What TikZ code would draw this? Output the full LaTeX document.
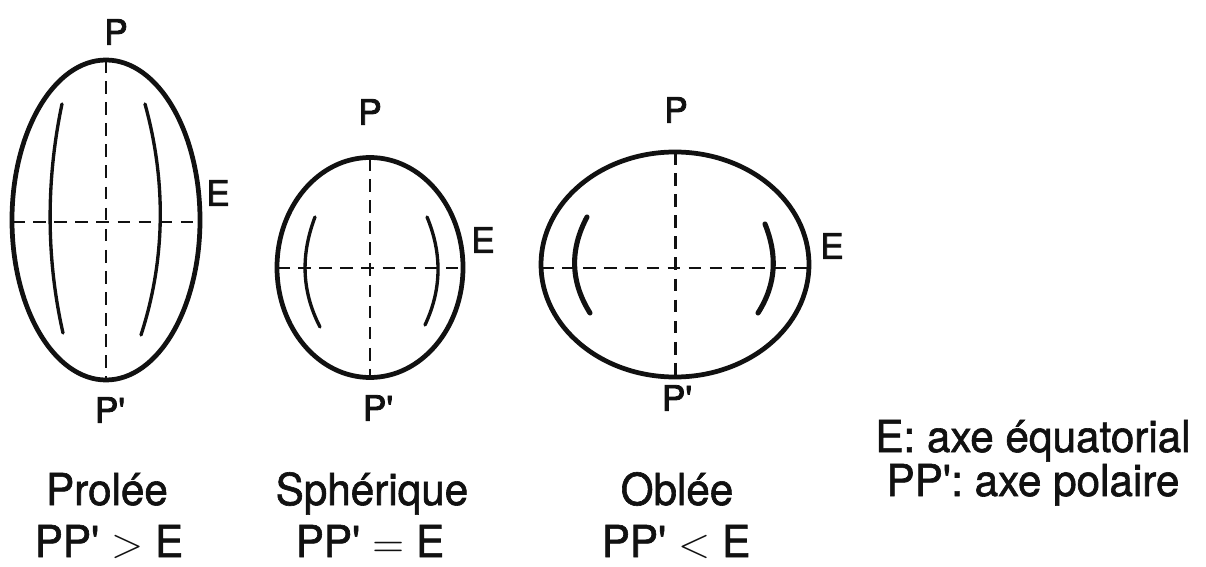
\documentclass[tikz,border=0pt]{standalone}
\usepackage{fontspec}
\setmainfont{TeX Gyre Heros}
\newfontfamily\capfont[FakeBold=1.4,FakeStretch=0.96]{TeX Gyre Heros}
\newfontfamily\polefont[FakeBold=2.2]{TeX Gyre Heros}
\definecolor{ink}{HTML}{111111}

\begin{document}
\begin{tikzpicture}[x=0.01cm,y=-0.01cm,shell/.style={ink,line width=1.35pt},axis/.style={ink,line width=0.85pt,dash pattern=on 3.6pt off 2.4pt},fold/.style={ink,line width=0.95pt,line cap=round},pole/.style={font=\polefont\fontsize{10}{10}\selectfont,text=ink,inner sep=0pt},caption/.style={font=\capfont\fontsize{12.5}{14}\selectfont,text=ink,anchor=base,inner sep=0pt}]
 \useasboundingbox (0,0) rectangle (1206,567);
 % prolee
 \coordinate (pro-n) at (106,60); \coordinate (pro-s) at (106,380);
 \coordinate (pro-w) at (12,222); \coordinate (pro-e) at (200,222);
 \draw[shell] (106,220) ellipse [x radius=94,y radius=160];
 \draw[axis] (pro-n)--(pro-s); \draw[axis] (pro-w)--(pro-e);
 \draw[fold] (62,104) .. controls (46,180) and (46,258) .. (63,333);
 \draw[fold] (145,104) .. controls (166,180) and (166,258) .. (141,335);
 \node[pole] (pro-p) at (116,32) {P};
 \node[pole] (pro-q) at (110,410) {P\textquotesingle};
 \node[pole] (pro-e-lab) at (218,193) {E};
 % spherique
 \coordinate (sph-n) at (370,158); \coordinate (sph-s) at (370,377);
 \coordinate (sph-w) at (277,268); \coordinate (sph-e) at (463,268);
 \draw[shell] (370,267.5) ellipse [x radius=93,y radius=110];
 \draw[axis] (sph-n)--(sph-s); \draw[axis] (sph-w)--(sph-e);
 \draw[fold] (315,217) .. controls (301,254) and (301,290) .. (320,327);
 \draw[fold] (427,217) .. controls (442,253) and (442,289) .. (425,325);
 \node[pole] (sph-p) at (370,112) {P};
 \node[pole] (sph-q) at (378,408) {P\textquotesingle};
 \node[pole] (sph-e-lab) at (483,240) {E};
 % oblee
 \coordinate (obl-n) at (675,152); \coordinate (obl-s) at (675,377);
 \coordinate (obl-w) at (541,268); \coordinate (obl-e) at (809,268);
 \draw[shell] (675,264.5) ellipse [x radius=134,y radius=112.5];
 \draw[axis] (obl-n)--(obl-s); \draw[axis] (obl-w)--(obl-e);
 \draw[fold,line width=1.45pt] (587,217) .. controls (570,249) and (570,281) .. (590,313);
 \draw[fold,line width=1.45pt] (765,224) .. controls (777,254) and (777,283) .. (758,313);
 \node[pole] (obl-p) at (676,110) {P};
 \node[pole] (obl-q) at (677,398) {P\textquotesingle};
 \node[pole] (obl-e-lab) at (832,246) {E};
 % legendes
 \node[caption] (pro-name) at (107,505) {Prolée};
 \node[caption] (pro-rel) at (109,557) {PP\textquotesingle\ $>$ E};
 \node[caption] (sph-name) at (372,505) {Sphérique};
 \node[caption] (sph-rel) at (370,557) {PP\textquotesingle\ $=$ E};
 \node[caption] (obl-name) at (677,505) {Oblée};
 \node[caption] (obl-rel) at (676,557) {PP\textquotesingle\ $<$ E};
 \node[caption] (key-e) at (1033,452) {E: axe équatorial};
 \node[caption] (key-pp) at (1033,496) {PP\textquotesingle: axe polaire};
\end{tikzpicture}
\end{document}
